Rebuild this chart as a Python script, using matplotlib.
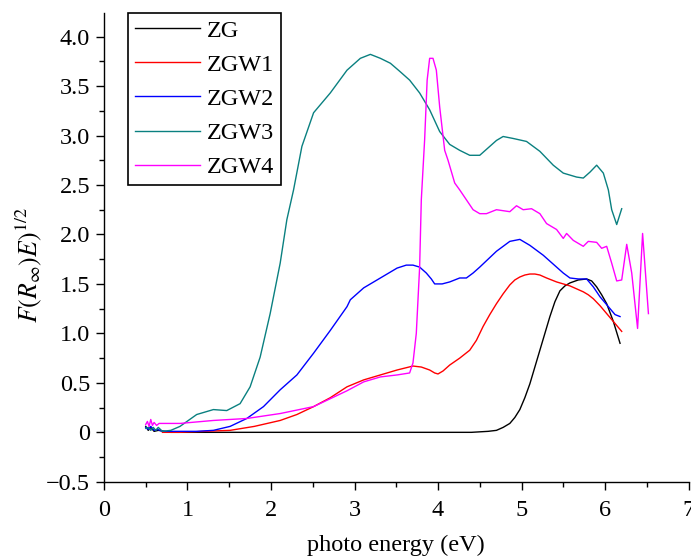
import matplotlib
matplotlib.use("Agg")
import matplotlib.pyplot as plt
from matplotlib.ticker import MultipleLocator, FuncFormatter

plt.rcParams['font.family'] = ['Liberation Serif', 'DejaVu Serif']
plt.rcParams['mathtext.fontset'] = 'stix'

# ---- data ----
zg_x = [0.50, 0.53, 0.56, 0.60, 0.65, 0.80, 1.5, 2.5, 3.5, 4.4, 4.60, 4.70, 4.78, 4.86, 4.92,
        4.98, 5.04, 5.10, 5.16, 5.22, 5.28, 5.34, 5.40, 5.46, 5.52, 5.58, 5.68, 5.78, 5.84,
        5.90, 5.96, 6.02, 6.10, 6.18]
zg_y = [0.06, 0.02, 0.05, 0.01, 0.02, 0.00, 0.00, 0.00, 0.00, 0.00, 0.01, 0.02, 0.05, 0.09, 0.15,
        0.23, 0.35, 0.49, 0.66, 0.83, 1.00, 1.17, 1.32, 1.43, 1.48, 1.51, 1.54, 1.55, 1.53,
        1.47, 1.39, 1.30, 1.12, 0.90]

zgw1_x = [0.70, 0.90, 1.20, 1.51, 1.80, 2.11, 2.31, 2.51, 2.71, 2.91, 3.11, 3.31, 3.51, 3.70,
          3.80, 3.90, 3.96, 4.00, 4.06, 4.14, 4.26, 4.38, 4.46, 4.54, 4.62, 4.70, 4.78, 4.86,
          4.92, 4.98, 5.04, 5.10, 5.16, 5.22, 5.30, 5.42, 5.50, 5.58, 5.66, 5.74, 5.80, 5.86,
          5.94, 6.02, 6.10, 6.20]
zgw1_y = [0.00, 0.00, 0.01, 0.02, 0.06, 0.12, 0.18, 0.26, 0.35, 0.46, 0.53, 0.58, 0.63, 0.67,
          0.66, 0.63, 0.60, 0.59, 0.62, 0.68, 0.75, 0.83, 0.93, 1.07, 1.19, 1.30, 1.40, 1.49,
          1.54, 1.57, 1.59, 1.60, 1.60, 1.59, 1.56, 1.52, 1.50, 1.48, 1.45, 1.42, 1.39, 1.35,
          1.28, 1.20, 1.12, 1.02]

zgw2_x = [0.50, 0.53, 0.56, 0.60, 0.64, 0.70, 0.80, 0.91, 1.11, 1.31, 1.51, 1.71, 1.91, 2.11,
          2.31, 2.51, 2.71, 2.91, 2.95, 3.11, 3.31, 3.51, 3.62, 3.70, 3.78, 3.86, 3.92, 3.96,
          4.05, 4.14, 4.26, 4.34, 4.42, 4.50, 4.60, 4.70, 4.78, 4.86, 4.98, 5.10, 5.18, 5.26,
          5.34, 5.42, 5.50, 5.58, 5.68, 5.78, 5.86, 5.94, 6.00, 6.06, 6.12, 6.18]
zgw2_y = [0.05, 0.03, 0.06, 0.02, 0.03, 0.01, 0.01, 0.01, 0.01, 0.02, 0.06, 0.14, 0.26, 0.43,
          0.58, 0.80, 1.03, 1.27, 1.34, 1.46, 1.56, 1.66, 1.69, 1.69, 1.67, 1.61, 1.55, 1.50,
          1.50, 1.52, 1.56, 1.56, 1.61, 1.67, 1.75, 1.83, 1.88, 1.93, 1.95, 1.89, 1.84, 1.79,
          1.73, 1.67, 1.61, 1.56, 1.55, 1.55, 1.47, 1.37, 1.31, 1.25, 1.19, 1.17]

zgw3_x = [0.50, 0.53, 0.56, 0.59, 0.62, 0.65, 0.70, 0.80, 0.91, 1.11, 1.31, 1.47, 1.63, 1.75,
          1.87, 1.99, 2.11, 2.19, 2.27, 2.37, 2.51, 2.71, 2.91, 3.07, 3.19, 3.31, 3.43, 3.54,
          3.66, 3.78, 3.90, 4.02, 4.14, 4.26, 4.38, 4.50, 4.62, 4.70, 4.78, 4.90, 5.06, 5.22,
          5.38, 5.50, 5.66, 5.74, 5.82, 5.90, 5.98, 6.04, 6.08, 6.14, 6.20]
zgw3_y = [0.04, 0.05, 0.02, 0.05, 0.02, 0.05, 0.01, 0.02, 0.06, 0.18, 0.23, 0.22, 0.29, 0.46,
          0.76, 1.20, 1.71, 2.15, 2.45, 2.89, 3.23, 3.43, 3.66, 3.78, 3.82, 3.78, 3.73, 3.65,
          3.56, 3.43, 3.26, 3.04, 2.91, 2.85, 2.80, 2.80, 2.89, 2.95, 2.99, 2.97, 2.94, 2.84,
          2.70, 2.62, 2.58, 2.57, 2.63, 2.70, 2.62, 2.45, 2.25, 2.10, 2.26]

zgw4_x = [0.50, 0.52, 0.54, 0.56, 0.58, 0.60, 0.63, 0.66, 0.91, 1.31, 1.71, 2.11, 2.51, 2.91,
          3.11, 3.31, 3.51, 3.66, 3.70, 3.74, 3.78, 3.80, 3.84, 3.87, 3.90, 3.94, 3.98, 4.02,
          4.08, 4.12, 4.20, 4.26, 4.34, 4.42, 4.50, 4.58, 4.70, 4.86, 4.94, 5.02, 5.12, 5.22,
          5.30, 5.42, 5.50, 5.54, 5.62, 5.74, 5.80, 5.90, 5.96, 6.02, 6.08, 6.14, 6.20, 6.26,
          6.32, 6.39, 6.45, 6.52]
zgw4_y = [0.08, 0.11, 0.06, 0.13, 0.07, 0.10, 0.07, 0.09, 0.09, 0.12, 0.14, 0.19, 0.26, 0.42,
          0.51, 0.56, 0.58, 0.60, 0.70, 1.00, 1.67, 2.35, 2.96, 3.56, 3.78, 3.78, 3.66, 3.29,
          2.85, 2.75, 2.52, 2.45, 2.35, 2.25, 2.21, 2.21, 2.25, 2.23, 2.29, 2.25, 2.26, 2.21,
          2.11, 2.05, 1.96, 2.01, 1.94, 1.88, 1.93, 1.92, 1.86, 1.88, 1.71, 1.53, 1.54, 1.90,
          1.61, 1.05, 2.01, 1.20]

labels = ['ZG', 'ZGW1', 'ZGW2', 'ZGW3', 'ZGW4']
colors = ['#000000', '#ff0000', '#0000ff', '#0a8080', '#ff00ff']
xs = [zg_x, zgw1_x, zgw2_x, zgw3_x, zgw4_x]
ys = [zg_y, zgw1_y, zgw2_y, zgw3_y, zgw4_y]

fig = plt.figure(figsize=(6.91, 5.57), dpi=100)
ax = fig.add_axes([0.1505, 0.135, 0.8459, 0.842])

for x, y, c, lab in zip(xs, ys, colors, labels):
    ax.plot(x, y, color=c, lw=1.0, label=lab)

ax.set_xlim(0, 7)
ax.set_ylim(-0.5, 4.24)
ax.spines['top'].set_visible(False)
ax.spines['right'].set_visible(False)
ax.spines['left'].set_linewidth(1.0)
ax.spines['bottom'].set_linewidth(1.0)

ax.xaxis.set_major_locator(MultipleLocator(1))
ax.xaxis.set_minor_locator(MultipleLocator(0.5))
ax.yaxis.set_major_locator(MultipleLocator(0.5))
ax.yaxis.set_minor_locator(MultipleLocator(0.25))

def yfmt(v, pos):
    if abs(v) < 1e-9:
        return '0'
    return ('%.1f' % v).replace('-', '\u2212')

ax.yaxis.set_major_formatter(FuncFormatter(yfmt))
ax.tick_params(which='major', direction='out', length=6, width=1.0, labelsize=17.5, pad=4)
ax.tick_params(axis='x', which='major', pad=7)
ax.tick_params(which='minor', direction='out', length=3.5, width=1.0)

ax.set_xlabel('photo energy (eV)', fontsize=17.5)
ax.xaxis.set_label_coords(0.50, -0.113)
ax.set_ylabel(r'$F(R_{\infty})E)^{1/2}$', fontsize=18.5)
ax.yaxis.set_label_coords(-0.103, 0.462)

leg = ax.legend(loc='upper left', bbox_to_anchor=(0.041, 1.0), fontsize=17.5,
                frameon=True, fancybox=False, edgecolor='black', framealpha=1,
                handlelength=2.7, labelspacing=0.5, borderpad=0.28, handletextpad=0.28,
                borderaxespad=0)
leg.get_frame().set_linewidth(1.2)

fig.savefig('out.png', dpi=100)
